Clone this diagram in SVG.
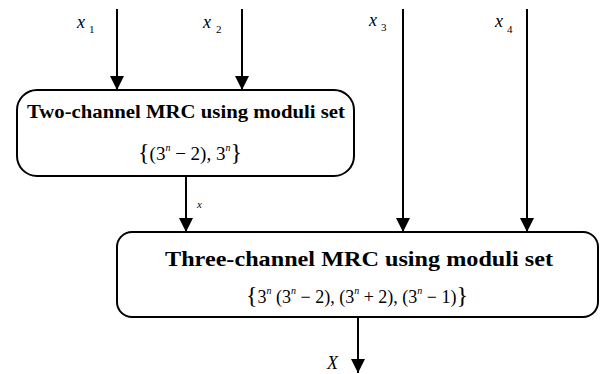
<svg xmlns="http://www.w3.org/2000/svg" width="600" height="374" viewBox="0 0 600 374">
<style>
.box{fill:#fff;stroke:#000;stroke-width:2}
.ln{stroke:#000;stroke-width:2;fill:none}
.t{font-family:"Liberation Serif","Times New Roman",serif;font-weight:bold;fill:#000}
.m{font-family:"Liberation Serif","Times New Roman",serif;fill:#000}
.i{font-style:italic}
</style>
<defs>
<marker id="ah" markerUnits="userSpaceOnUse" markerWidth="14" markerHeight="14" viewBox="0 0 14 14" refX="14" refY="7" orient="auto">
<path d="M0,0 L14,7 L0,14 Z" fill="#000"/>
</marker>
</defs>
<g id="connectors">
<line class="ln" x1="117" y1="9" x2="117" y2="90" marker-end="url(#ah)"/>
<line class="ln" x1="242" y1="9" x2="242" y2="90" marker-end="url(#ah)"/>
<line class="ln" x1="403" y1="9" x2="403" y2="232" marker-end="url(#ah)"/>
<line class="ln" x1="527" y1="9" x2="527" y2="232" marker-end="url(#ah)"/>
<line class="ln" x1="186" y1="176" x2="186" y2="232" marker-end="url(#ah)"/>
<line class="ln" x1="358" y1="317" x2="358" y2="373" marker-end="url(#ah)"/>
</g>
<g id="labels">
<text class="m i" x="77" y="28" font-size="18">x</text><text class="m" x="89" y="33" font-size="11">1</text>
<text class="m i" x="203" y="28" font-size="18">x</text><text class="m" x="216" y="33" font-size="11">2</text>
<text class="m i" x="369" y="26" font-size="18">x</text><text class="m" x="381" y="31" font-size="11">3</text>
<text class="m i" x="495" y="27" font-size="18">x</text><text class="m" x="507" y="33" font-size="11">4</text>
<text class="m i" x="197" y="208" font-size="11">x</text>
<text class="m i" x="327" y="369" font-size="18">X</text>
</g>
<g id="node1">
<rect class="box" x="17" y="90" width="337" height="86" rx="20" ry="20"/>
<text class="t" x="186" y="118" font-size="18" text-anchor="middle" textLength="318" lengthAdjust="spacingAndGlyphs">Two-channel MRC using moduli set</text>
<text class="m" x="190" y="160" font-size="19" text-anchor="middle"><tspan font-size="24">{</tspan>(3<tspan class="i" font-size="10" dy="-9">n</tspan><tspan dy="9"> − 2), 3</tspan><tspan class="i" font-size="10" dy="-9">n</tspan><tspan dy="9" font-size="24">}</tspan></text>
</g>
<g id="node2">
<rect class="box" x="117" y="232" width="481" height="85" rx="15" ry="15"/>
<text class="t" x="359" y="266" font-size="22" text-anchor="middle" textLength="388" lengthAdjust="spacingAndGlyphs">Three-channel MRC using moduli set</text>
<text class="m" x="357" y="303" font-size="18" text-anchor="middle"><tspan font-size="24">{</tspan>3<tspan class="i" font-size="10" dy="-9">n</tspan><tspan dy="9"> (3</tspan><tspan class="i" font-size="10" dy="-9">n</tspan><tspan dy="9"> − 2), (3</tspan><tspan class="i" font-size="10" dy="-9">n</tspan><tspan dy="9"> + 2), (3</tspan><tspan class="i" font-size="10" dy="-9">n</tspan><tspan dy="9"> − 1)</tspan><tspan font-size="24">}</tspan></text>
</g>
</svg>
